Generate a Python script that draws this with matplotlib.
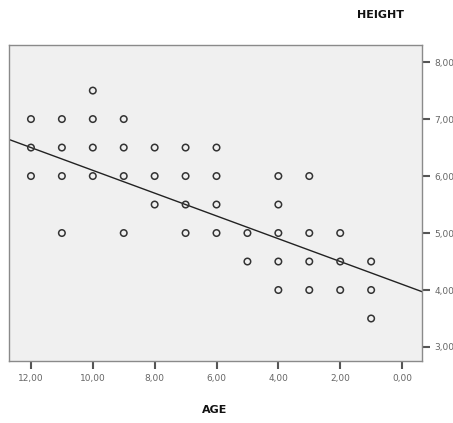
import matplotlib
matplotlib.use("Agg")
import matplotlib.pyplot as plt

# scatter data (age, height)
age = [12, 12, 12,
       11, 11, 11, 11,
       10, 10, 10, 10,
       9, 9, 9, 9,
       8, 8, 8,
       7, 7, 7, 7,
       6, 6, 6, 6,
       5, 5,
       4, 4, 4, 4, 4,
       3, 3, 3, 3,
       2, 2, 2,
       1, 1, 1]
height = [7.0, 6.5, 6.0,
          7.0, 6.5, 6.0, 5.0,
          7.5, 7.0, 6.5, 6.0,
          7.0, 6.5, 6.0, 5.0,
          6.5, 6.0, 5.5,
          6.5, 6.0, 5.5, 5.0,
          6.5, 6.0, 5.5, 5.0,
          5.0, 4.5,
          6.0, 5.5, 5.0, 4.5, 4.0,
          6.0, 5.0, 4.5, 4.0,
          5.0, 4.5, 4.0,
          4.5, 4.0, 3.5]

# fit line
fit_intercept = 4.1
fit_slope = 0.2

x_ticks = [0, 2, 4, 6, 8, 10, 12]
y_ticks = [3, 4, 5, 6, 7, 8]

fig = plt.figure(figsize=(4.53, 4.23), dpi=100)
ax = fig.add_axes([9 / 453, 62 / 423, 413 / 453, 316 / 423])
ax.set_facecolor("#f0f0f0")

ax.scatter(age, height, s=22, facecolors="none", edgecolors="#333333",
           linewidths=1.1, zorder=3)

xmin, xmax = -0.645, 12.71
xs = [xmin, xmax]
ax.plot(xs, [fit_intercept + fit_slope * v for v in xs],
        color="#222222", linewidth=1.0, zorder=2)

ax.set_xlim(xmax, xmin)
ax.set_ylim(2.754, 8.30)

ax.set_xticks(x_ticks)
ax.set_xticklabels([f"{v:.2f}".replace(".", ",") for v in x_ticks])
ax.set_yticks(y_ticks)
ax.set_yticklabels([f"{v:.2f}".replace(".", ",") for v in y_ticks])
ax.yaxis.tick_right()

for s in ax.spines.values():
    s.set_color("#8a8a8a")
    s.set_linewidth(1.0)
ax.tick_params(axis="both", colors="#555555", labelsize=6.5, length=6,
               width=1.5, direction="out", labelcolor="#666666", pad=3)

fig.text(380 / 453, 1 - 15 / 423, "HEIGHT", ha="center", va="center",
         fontsize=8, fontweight="bold", color="#111111")
fig.text(215 / 453, 1 - 410 / 423, "AGE", ha="center", va="center",
         fontsize=8, fontweight="bold", color="#111111")

fig.savefig("out.png", dpi=100)
